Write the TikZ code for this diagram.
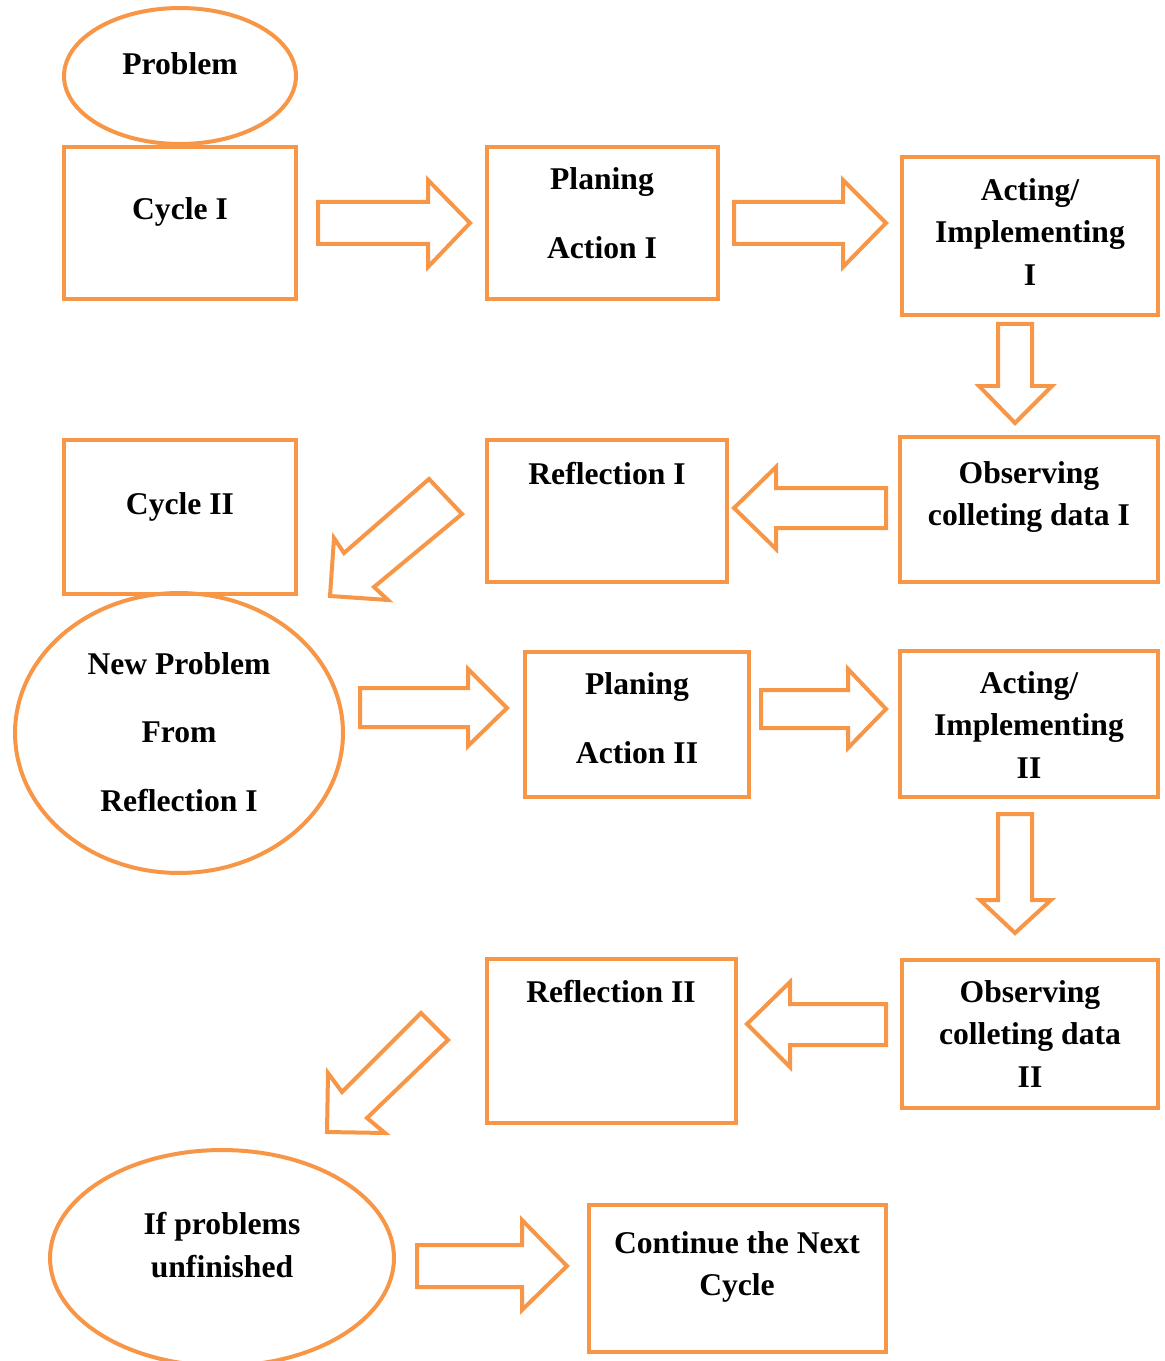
\documentclass[tikz,border=0pt]{standalone}
\usepackage{fontspec}
\setmainfont{Liberation Serif}
\usetikzlibrary{shapes.geometric}
\definecolor{cycorange}{HTML}{F79646}

\begin{document}
\begin{tikzpicture}[x=0.02cm, y=-0.02cm,
  box/.style={draw=cycorange, line width=0.08cm, rectangle, inner sep=0pt, outer sep=0pt},
  oval/.style={draw=cycorange, line width=0.08cm, ellipse, inner sep=0pt, outer sep=0pt},
  txt/.style={align=center, inner sep=0pt, font=\fontsize{18}{24}\selectfont\bfseries},
  wide/.style={font=\fontsize{18}{39}\selectfont\bfseries},
  barrow/.style={draw=cycorange, line width=0.08cm, line join=miter, fill=white}]
\useasboundingbox (0,0) rectangle (1164,1361);
% Cycle I
\node[oval, minimum width=4.64cm, minimum height=2.72cm] (prob) at (180,76) {};
\node[txt] (probt) at (180,64) {Problem};
\node[box, minimum width=4.64cm, minimum height=3.04cm] (cyc1) at (180,223) {};
\node[txt] (cyc1t) at (180,212) {Cycle I};
\node[box, minimum width=4.62cm, minimum height=3.04cm] (plan1) at (602.5,223) {};
\node[txt, wide] (plan1t) at (602,213) {Planing\\Action I};
\node[box, minimum width=5.12cm, minimum height=3.16cm] (act1) at (1030,236) {};
\node[txt] (act1t) at (1030,232) {Acting/\\Implementing\\I};
\node[box, minimum width=5.16cm, minimum height=2.90cm] (obs1) at (1029,509.5) {};
\node[txt] (obs1t) at (1029,497) {Observing\\colleting data I};
\node[box, minimum width=4.80cm, minimum height=2.84cm] (refl1) at (607,511) {};
\node[txt] (refl1t) at (607,474) {Reflection I};
\draw[barrow] (318,202) -- (428,202) -- (428,180) -- (470,223) -- (428,267) -- (428,244) -- (318,244) -- cycle;
\draw[barrow] (734,202) -- (843,202) -- (843,180) -- (886,223) -- (843,267) -- (843,244) -- (734,244) -- cycle;
\draw[barrow] (998,324) -- (1032,324) -- (1032,386) -- (1052,386) -- (1015,423) -- (979,386) -- (998,386) -- cycle;
\draw[barrow] (886,488) -- (776,488) -- (776,467) -- (734,508) -- (776,549) -- (776,528) -- (886,528) -- cycle;
\draw[barrow] (429,479) -- (462,514) -- (374,587) -- (388,600) -- (330,596) -- (334,538) -- (344,553) -- cycle;
% Cycle II
\node[box, minimum width=4.64cm, minimum height=3.08cm] (cyc2) at (180,517) {};
\node[txt] (cyc2t) at (180,507) {Cycle II};
\node[oval, minimum width=6.56cm, minimum height=5.60cm] (newprob) at (179,733) {};
\node[txt, wide] (newprobt) at (179,732) {New Problem\\From\\Reflection I};
\node[box, minimum width=4.48cm, minimum height=2.90cm] (plan2) at (637,724.5) {};
\node[txt, wide] (plan2t) at (637,718) {Planing\\Action II};
\node[box, minimum width=5.16cm, minimum height=2.92cm] (act2) at (1029,724) {};
\node[txt] (act2t) at (1029,725) {Acting/\\Implementing\\II};
\node[box, minimum width=5.12cm, minimum height=2.96cm] (obs2) at (1030,1034) {};
\node[txt] (obs2t) at (1030,1034) {Observing\\colleting data\\II};
\node[box, minimum width=4.98cm, minimum height=3.28cm] (refl2) at (611.5,1041) {};
\node[txt] (refl2t) at (611,992) {Reflection II};
\draw[barrow] (360,688) -- (468,688) -- (468,669) -- (507,708) -- (468,746) -- (468,727) -- (360,727) -- cycle;
\draw[barrow] (761,690) -- (848,690) -- (848,669) -- (886,709) -- (848,748) -- (848,728) -- (761,728) -- cycle;
\draw[barrow] (998,814) -- (1032,814) -- (1032,900) -- (1051,900) -- (1015,933) -- (980,900) -- (998,900) -- cycle;
\draw[barrow] (886,1004) -- (790,1004) -- (790,982) -- (747,1024) -- (790,1067) -- (790,1045) -- (886,1045) -- cycle;
\draw[barrow] (421,1013) -- (448,1040) -- (367,1118) -- (385,1133) -- (327,1132) -- (328,1073) -- (342,1092) -- cycle;
% Next cycle
\node[oval, minimum width=6.88cm, minimum height=4.32cm] (unfin) at (222,1258) {};
\node[txt] (unfint) at (222,1245) {If problems\\unfinished};
\node[box, minimum width=5.94cm, minimum height=2.94cm] (next) at (737.5,1278.5) {};
\node[txt] (nextt) at (737,1267) {Continue the Next\\Cycle};
\draw[barrow] (417,1245) -- (522,1245) -- (522,1220) -- (567,1266) -- (522,1310) -- (522,1287) -- (417,1287) -- cycle;
\end{tikzpicture}
\end{document}
